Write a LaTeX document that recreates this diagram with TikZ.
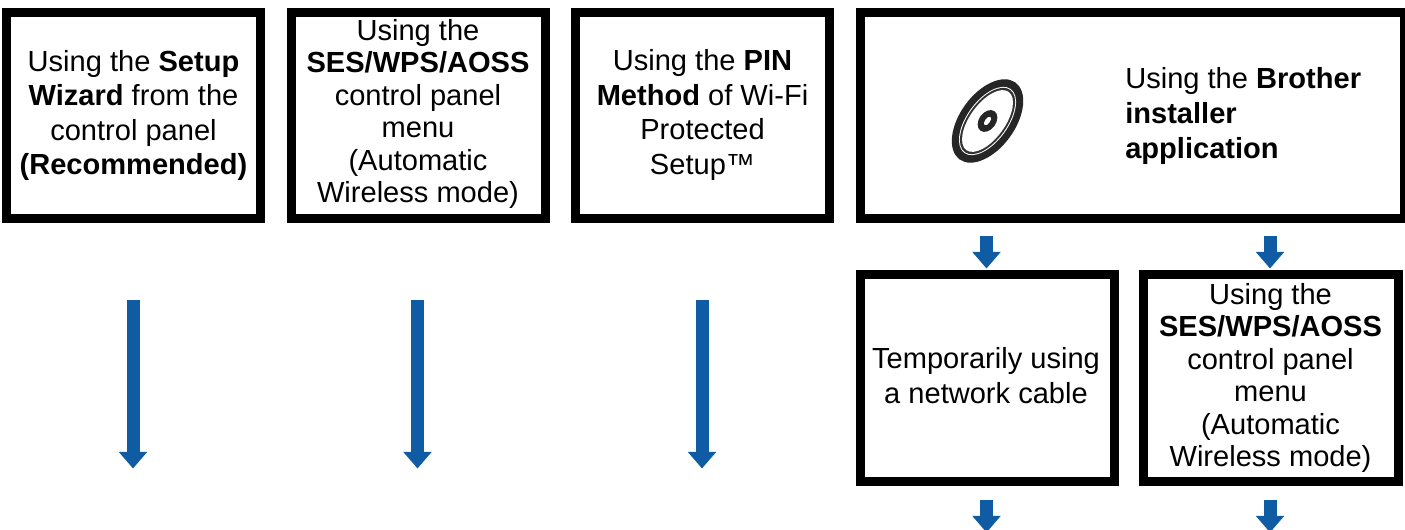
\documentclass[tikz,border=0pt]{standalone}
\usepackage{fontspec}
\setmainfont{Liberation Sans}
\usetikzlibrary{arrows.meta}
\definecolor{arrowblue}{HTML}{0F5CA5}
\tikzset{
  x=0.75pt,y=-0.75pt,
  framebox/.style={draw=black,fill=white,line width=6.75pt,inner sep=0pt,anchor=north west,
    minimum width=190.5pt,minimum height=154.5pt},
  boxtext/.style={align=center,inner sep=0pt,font=\fontsize{21.8pt}{25.9pt}\selectfont},
  tighttext/.style={align=center,inner sep=0pt,font=\fontsize{21.8pt}{24.4pt}\selectfont},
  flow/.style={draw=arrowblue,line width=9.75pt,-{Triangle[width=20.5pt,length=12.4pt,fill=arrowblue]},shorten >=0pt},
  disc/.style={rotate=54},
}
\begin{document}
\begin{tikzpicture}
\useasboundingbox (0,0) rectangle (1405,530);
\clip (0,0) rectangle (1405,530);
% boxes
\node[framebox] (b1) at (2,8) {};
\node[framebox] (b2) at (287,8) {};
\node[framebox] (b3) at (571,8) {};
\node[framebox,minimum width=408pt] (b4) at (856,8) {};
\node[framebox,minimum height=155.25pt] (b5) at (856,270) {};
\node[framebox,minimum height=155.25pt,minimum width=191.25pt] (b6) at (1139,270) {};
% texts
\node[boxtext] (t1) at (133.5,115.5) {Using the \textbf{Setup}\\\textbf{Wizard} from the\\control panel\\\textbf{(Recommended)}};
\node[tighttext] (t2) at (418,114) {Using the\\\textbf{SES/WPS/AOSS}\\control panel\\menu\\(Automatic\\Wireless mode)};
\node[boxtext] (t3) at (702.5,115) {Using the \textbf{PIN}\\\textbf{Method} of Wi-Fi\\Protected\\Setup™};
\node[boxtext,align=left,anchor=west] (t4) at (1125,116) {Using the \textbf{Brother}\\\textbf{installer}\\\textbf{application}};
\node[boxtext] (t5) at (986,375.5) {Temporarily using\\a network cable};
\node[tighttext] (t6) at (1270.5,378) {Using the\\\textbf{SES/WPS/AOSS}\\control panel\\menu\\(Automatic\\Wireless mode)};
% disc
\begin{scope}[shift={(987.5,121)}]
  \fill[black!85,disc] (0,0) ellipse [x radius=47.5,y radius=27.5];
  \fill[white,disc] (0,0) ellipse [x radius=39.5,y radius=20.5];
  \fill[black!80,disc] (0,0) ellipse [x radius=38.5,y radius=19.5];
  \fill[white,disc] (0,0) ellipse [x radius=36,y radius=17.5];
  \fill[black!85,disc] (0,0) ellipse [x radius=12,y radius=8.5];
  \fill[white,disc] (0,0) ellipse [x radius=5,y radius=2.5];
\end{scope}
% arrows
\coordinate (a1s) at (133,300); \coordinate (a1e) at (133,468.5);
\coordinate (a2s) at (417.5,300); \coordinate (a2e) at (417.5,468.5);
\coordinate (a3s) at (702,300); \coordinate (a3e) at (702,468.5);
\coordinate (a4s) at (986.5,236); \coordinate (a4e) at (986.5,268.5);
\coordinate (a5s) at (1270,236); \coordinate (a5e) at (1270,268.5);
\coordinate (a6s) at (986.5,500); \coordinate (a6e) at (986.5,532.5);
\coordinate (a7s) at (1270,500); \coordinate (a7e) at (1270,532.5);
\draw[flow] (a1s) -- (a1e);
\draw[flow] (a2s) -- (a2e);
\draw[flow] (a3s) -- (a3e);
\draw[flow] (a4s) -- (a4e);
\draw[flow] (a5s) -- (a5e);
\draw[flow] (a6s) -- (a6e);
\draw[flow] (a7s) -- (a7e);
\end{tikzpicture}
\end{document}
